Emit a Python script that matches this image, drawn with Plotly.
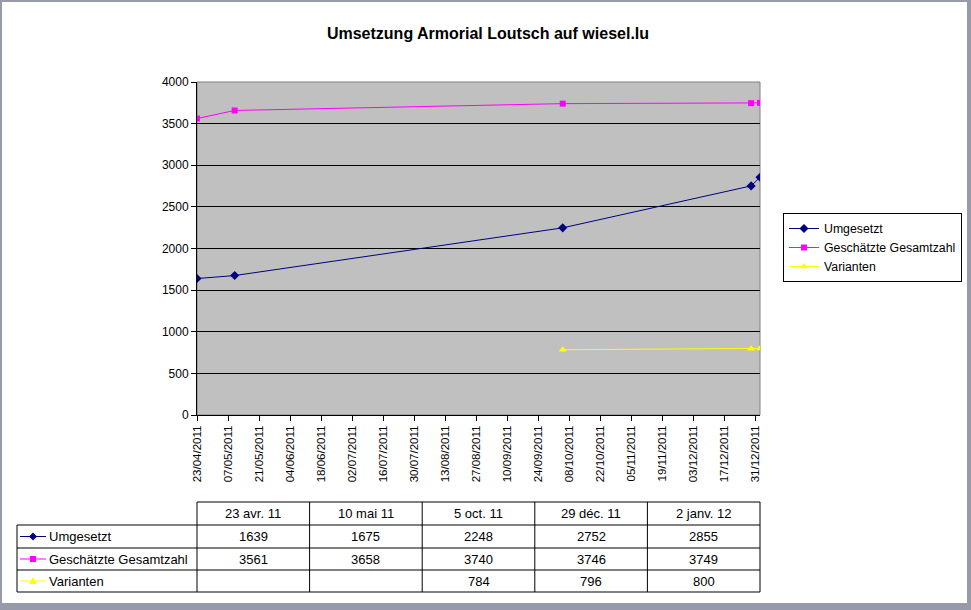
import plotly.graph_objects as go

# ---- data ----
dates = ["2011-04-23", "2011-05-10", "2011-10-05", "2011-12-29", "2012-01-02"]
table_dates = ["23 avr. 11", "10 mai 11", "5 oct. 11", "29 déc. 11", "2 janv. 12"]
umgesetzt = [1639, 1675, 2248, 2752, 2855]
gesamtzahl = [3561, 3658, 3740, 3746, 3749]
varianten = [None, None, 784, 796, 800]
series_names = ["Umgesetzt", "Geschätzte Gesamtzahl", "Varianten"]
series_colors = ["#000080", "#ff00ff", "#ffff00"]
series_symbols = ["diamond", "square", "triangle-up"]
series_values = [umgesetzt, gesamtzahl, varianten]

FIG_W, FIG_H = 971, 610
L, R, T, B = 197, 760, 82, 415
W, H = R - L, B - T


def px(x):
    return (x - L) / W


def py(y):
    return (B - y) / H


FONT = "Liberation Sans, Arial, sans-serif"
TFS = 13  # table font size

fig = go.Figure()
for name, vals, col, sym in zip(series_names, series_values, series_colors, series_symbols):
    fig.add_trace(go.Scatter(
        x=dates, y=vals, name=name, mode="lines+markers",
        line=dict(color=col, width=1),
        marker=dict(symbol=sym, color=col, size=7 if sym != "square" else 6,
                    line=dict(width=0)),
        connectgaps=False,
    ))

shapes = []
annotations = []

# plot-area border (grey)
shapes.append(dict(type="rect", xref="paper", yref="paper", x0=0, x1=1, y0=0, y1=1,
                   line=dict(color="#808080", width=1), layer="between"))

# outer window frame
frame_col = "#969aab"
shapes.append(dict(type="rect", xref="paper", yref="paper", x0=px(0), x1=px(FIG_W),
                   y0=py(FIG_H), y1=py(603), fillcolor=frame_col, line=dict(width=0)))
shapes.append(dict(type="rect", xref="paper", yref="paper", x0=px(0), x1=px(FIG_W),
                   y0=py(2), y1=py(0), fillcolor=frame_col, line=dict(width=0)))
shapes.append(dict(type="rect", xref="paper", yref="paper", x0=px(967), x1=px(FIG_W),
                   y0=py(FIG_H), y1=py(0), fillcolor=frame_col, line=dict(width=0)))
shapes.append(dict(type="rect", xref="paper", yref="paper", x0=px(0), x1=px(2),
                   y0=py(FIG_H), y1=py(0), fillcolor=frame_col, line=dict(width=0)))

# ---- data table below ----
col_x = [L + i * (R - L) / len(dates) for i in range(len(dates) + 1)]
row_y = [502, 525, 548, 570, 592]
lab_left = 17


def hline(x0, x1, y):
    shapes.append(dict(type="line", xref="paper", yref="paper", x0=px(x0), x1=px(x1),
                       y0=py(y), y1=py(y), line=dict(color="black", width=1)))


def vline(x, y0, y1):
    shapes.append(dict(type="line", xref="paper", yref="paper", x0=px(x), x1=px(x),
                       y0=py(y0), y1=py(y1), line=dict(color="black", width=1)))


hline(col_x[0], col_x[-1], row_y[0])
for y in row_y[1:]:
    hline(lab_left, col_x[-1], y)
for x in col_x:
    vline(x, row_y[0], row_y[-1])
vline(lab_left, row_y[1], row_y[-1])

for i, d in enumerate(table_dates):
    annotations.append(dict(xref="paper", yref="paper", x=px((col_x[i] + col_x[i + 1]) / 2),
                            y=py((row_y[0] + row_y[1]) / 2), text=d, showarrow=False,
                            font=dict(family=FONT, size=TFS, color="black"),
                            xanchor="center", yanchor="middle"))

for r, (name, vals, col, sym) in enumerate(zip(series_names, series_values, series_colors, series_symbols)):
    yc = (row_y[r + 1] + row_y[r + 2]) / 2
    # legend key line
    shapes.append(dict(type="line", xref="paper", yref="paper", x0=px(20), x1=px(46),
                       y0=py(yc), y1=py(yc), line=dict(color=col, width=1)))
    cx = 33
    if sym == "diamond":
        path = f"M {px(cx-4)},{py(yc)} L {px(cx)},{py(yc-4)} L {px(cx+4)},{py(yc)} L {px(cx)},{py(yc+4)} Z"
    elif sym == "square":
        path = f"M {px(cx-3)},{py(yc-3)} L {px(cx+3)},{py(yc-3)} L {px(cx+3)},{py(yc+3)} L {px(cx-3)},{py(yc+3)} Z"
    else:
        path = f"M {px(cx-4)},{py(yc+3)} L {px(cx+4)},{py(yc+3)} L {px(cx)},{py(yc-4)} Z"
    shapes.append(dict(type="path", xref="paper", yref="paper", path=path,
                       fillcolor=col, line=dict(width=0)))
    annotations.append(dict(xref="paper", yref="paper", x=px(47), y=py(yc), text=name,
                            showarrow=False, font=dict(family=FONT, size=TFS, color="black"),
                            xanchor="left", yanchor="middle"))
    for i, v in enumerate(vals):
        if v is None:
            continue
        annotations.append(dict(xref="paper", yref="paper", x=px((col_x[i] + col_x[i + 1]) / 2),
                                y=py(yc), text=str(v), showarrow=False,
                                font=dict(family=FONT, size=TFS, color="black"),
                                xanchor="center", yanchor="middle"))

fig.update_layout(
    width=FIG_W, height=FIG_H,
    margin=dict(l=L, r=FIG_W - R, t=T, b=FIG_H - B, autoexpand=False),
    paper_bgcolor="white", plot_bgcolor="#c0c0c0",
    title=dict(text="<b>Umsetzung Armorial Loutsch auf wiesel.lu</b>", x=488 / FIG_W,
               xanchor="center", y=1 - 33 / FIG_H, yanchor="middle",
               font=dict(family=FONT, size=16, color="black")),
    font=dict(family=FONT, size=11, color="black"),
    xaxis=dict(type="date", range=["2011-04-23", "2012-01-02"],
               tick0="2011-04-23", dtick=14 * 86400000, tickformat="%d/%m/%Y",
               tickangle=-90, ticks="outside", ticklen=5, tickcolor="black",
               showline=True, linecolor="black", linewidth=1, showgrid=False,
               zeroline=False, tickfont=dict(family=FONT, size=11.5, color="black")),
    yaxis=dict(range=[0, 4000], dtick=500, ticks="outside", ticklen=5,
               tickcolor="black", showline=True, linecolor="black", linewidth=1,
               showgrid=True, gridcolor="black", gridwidth=1, zeroline=False,
               tickfont=dict(family=FONT, size=12, color="black")),
    legend=dict(x=px(783), y=py(213), xanchor="left", yanchor="top",
                bgcolor="white", bordercolor="black", borderwidth=1,
                font=dict(family=FONT, size=12.3, color="black"),
                tracegroupgap=0, itemwidth=30),
    shapes=shapes, annotations=annotations,
)

fig.write_html("out.html", config={"displayModeBar": False},
               post_script="document.body.style.margin='0px';document.body.style.overflow='hidden';")
